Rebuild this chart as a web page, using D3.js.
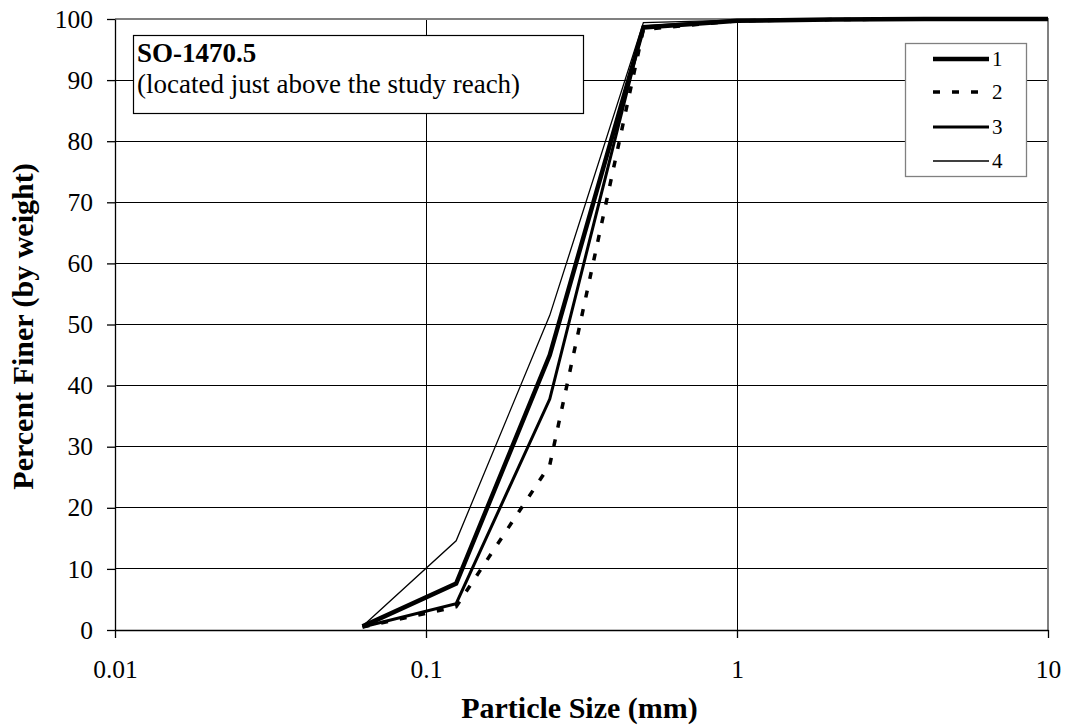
<!DOCTYPE html>
<html><head><meta charset="utf-8">
<script src="https://cdn.jsdelivr.net/npm/d3@7"></script>
<style>body{margin:0;background:#fff;} svg{display:block;} text{font-family:"Liberation Serif","Times New Roman",serif !important;fill:#000;}</style>
</head><body>
<svg id="c" width="1068" height="728"></svg>
<script>
const sizes = [0.0625, 0.125, 0.25, 0.5, 1, 2, 4, 10];
const s1 = [0.6, 7.6, 45, 98.6, 99.7, 99.9, 100, 100];
const s2 = [0.5, 3.8, 27, 98.3, 99.7, 99.9, 100, 100];
const s3 = [0.5, 4.3, 37.8, 98.8, 99.7, 99.9, 100, 100];
const s4 = [0.6, 14.6, 51.5, 99.4, 99.8, 99.9, 100, 100];
const seriesNames = ["1", "2", "3", "4"];
const xTicks = [0.01, 0.1, 1, 10];
const yTicks = [0,10,20,30,40,50,60,70,80,90,100];
const boxTitle = "SO-1470.5";
const boxSub = "(located just above the study reach)";

const svg = d3.select("#c");
const L=115, R=1048, T=19, B=630;
const x = d3.scaleLog().domain([0.01,10]).range([L,R]);
const y = d3.scaleLinear().domain([0,100]).range([B,T]);

// gridlines
svg.append("g").selectAll("line").data(yTicks.filter(d=>d>0 && d<100)).join("line")
  .attr("x1",L).attr("x2",R).attr("y1",d=>y(d)).attr("y2",d=>y(d))
  .attr("stroke","#000").attr("stroke-width",1).attr("shape-rendering","crispEdges");
svg.append("g").selectAll("line").data(xTicks.filter(d=>d>0.01 && d<10)).join("line")
  .attr("x1",d=>x(d)).attr("x2",d=>x(d)).attr("y1",T).attr("y2",B)
  .attr("stroke","#000").attr("stroke-width",1).attr("shape-rendering","crispEdges");
// plot border top/right gray
svg.append("path").attr("d",`M${L},${T}H${R}V${B}`).attr("fill","none")
  .attr("stroke","#808080").attr("stroke-width",1.5).attr("shape-rendering","crispEdges");

// axes
const xAxis = d3.axisBottom(x).tickValues(xTicks).tickFormat(d=>String(d)).tickSizeInner(8).tickSizeOuter(0).tickPadding(22);
const gx = svg.append("g").attr("transform",`translate(0,${B})`).call(xAxis);
const yAxis = d3.axisLeft(y).tickValues(yTicks).tickSizeInner(8).tickSizeOuter(0).tickPadding(14);
const gy = svg.append("g").attr("transform",`translate(${L},0)`).call(yAxis);
[gx,gy].forEach(g=>{
  g.attr("font-family",null).attr("font-size",null);
  g.selectAll("text").attr("font-size",25.5).attr("fill","#000");
  g.selectAll("line,path").attr("stroke","#000").attr("stroke-width",1.3);
});

// series
const styles = [
  {data:s1, w:4.5, dash:null},
  {data:s2, w:3.5, dash:"7,12"},
  {data:s3, w:3, dash:null},
  {data:s4, w:1.3, dash:null}
];
const line = d3.line().x(d=>x(d[0])).y(d=>y(d[1]));
svg.append("clipPath").attr("id","clp").append("rect").attr("x",L).attr("y",T-3).attr("width",R-L).attr("height",B-T+3);
styles.slice().reverse().forEach(st=>{
  svg.append("path").datum(sizes.map((s,i)=>[s,st.data[i]]))
    .attr("d",line).attr("fill","none").attr("stroke","#000")
    .attr("stroke-width",st.w).attr("stroke-dasharray",st.dash)
    .attr("stroke-linejoin","miter").attr("clip-path","url(#clp)");
});

// title box
const tb = svg.append("g");
tb.append("rect").attr("x",133.5).attr("y",35.5).attr("width",450).attr("height",78)
  .attr("fill","#fff").attr("stroke","#000").attr("stroke-width",1.2);
tb.append("text").attr("x",137).attr("y",62).attr("font-size",27).attr("font-weight","bold").text(boxTitle);
tb.append("text").attr("x",137).attr("y",93).attr("font-size",27).text(boxSub);

// legend
const lg = svg.append("g");
lg.append("rect").attr("x",905.5).attr("y",43.5).attr("width",121).attr("height",133)
  .attr("fill","#fff").attr("stroke","#808080").attr("stroke-width",1.3);
const ly = [59, 92, 127, 161];
styles.forEach((st,i)=>{
  lg.append("line").attr("x1",933).attr("x2",989).attr("y1",ly[i]).attr("y2",ly[i])
    .attr("stroke","#000").attr("stroke-width",st.w).attr("stroke-dasharray",st.dash);
  lg.append("text").attr("x",992).attr("y",ly[i]+7).attr("font-size",21).text(seriesNames[i]);
});

// axis titles
svg.append("text").attr("x",(L+R)/2-2).attr("y",718).attr("text-anchor","middle")
  .attr("font-size",30).attr("font-weight","bold").text("Particle Size (mm)");
svg.append("text").attr("transform",`translate(33,${(T+B)/2+2}) rotate(-90)`).attr("text-anchor","middle")
  .attr("font-size",30).attr("font-weight","bold").text("Percent Finer (by weight)");
</script>
</body></html>
